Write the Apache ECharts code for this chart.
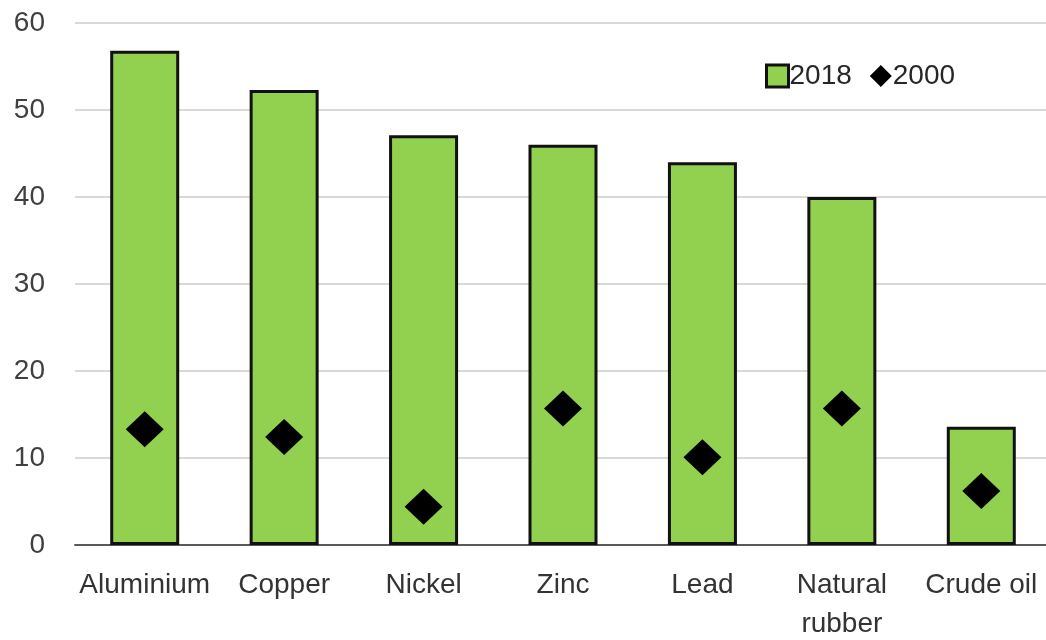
<!DOCTYPE html>
<html>
<head>
<meta charset="utf-8">
<script src="https://cdn.jsdelivr.net/npm/echarts@6/dist/echarts.min.js"></script>
<style>
  html, body { margin: 0; padding: 0; background: #fff; }
  #chart { width: 1046px; height: 640px; }
</style>
</head>
<body>
<div id="chart"></div>
<script>
const categories = ['Aluminium', 'Copper', 'Nickel', 'Zinc', 'Lead', 'Natural\nrubber', 'Crude oil']
const values2018 = [56.8, 52.3, 47.1, 46.0, 44.0, 40.0, 13.6]
const values2000 = [13.3, 12.4, 4.4, 15.7, 10.1, 15.7, 6.2]
const yTicks = [0, 10, 20, 30, 40, 50, 60]

const chart = echarts.init(document.getElementById('chart'))
const font = 'Liberation Sans, Arial, sans-serif'

const option = {
  animation: false,
  grid: {
    left: 75,
    right: -5,
    top: 23,
    bottom: 95,
    outerBoundsMode: 'none',
    containLabel: false
  },
  legend: {
    left: 760,
    top: 57,
    itemWidth: 22,
    itemHeight: 22,
    itemGap: 18,
    textStyle: { fontFamily: font, fontSize: 28, color: '#262626', padding: [0, 0, 0, -4] },
    data: [
      { name: '2018', icon: 'rect', itemStyle: { borderWidth: 3, borderColor: '#111' } },
      { name: '2000', icon: 'diamond', itemStyle: { color: '#000', opacity: 1 } }
    ]
  },
  xAxis: {
    type: 'category',
    data: categories,
    axisLine: { lineStyle: { color: '#595959', width: 2 } },
    axisTick: { show: false },
    axisLabel: {
      fontFamily: font,
      fontSize: 28,
      color: '#333',
      margin: 21,
      lineHeight: 39,
      interval: 0
    }
  },
  yAxis: {
    type: 'value',
    min: yTicks[0],
    max: yTicks[yTicks.length - 1],
    interval: 10,
    axisLine: { show: false },
    axisTick: { show: false },
    splitLine: { lineStyle: { color: '#d9d9d9', width: 2 } },
    axisLabel: {
      fontFamily: font,
      fontSize: 28,
      color: '#404040',
      margin: 30
    }
  },
  series: [
    {
      name: '2018',
      type: 'bar',
      data: values2018,
      barWidth: 69,
      itemStyle: {
        color: '#92d050',
        borderColor: '#111',
        borderWidth: 3
      }
    },
    {
      name: '2000',
      type: 'scatter',
      data: values2000,
      symbol: 'diamond',
      symbolSize: [38, 36],
      itemStyle: { color: '#000', opacity: 1 },
      z: 5
    }
  ]
}

chart.setOption(option)
</script>
</body>
</html>
